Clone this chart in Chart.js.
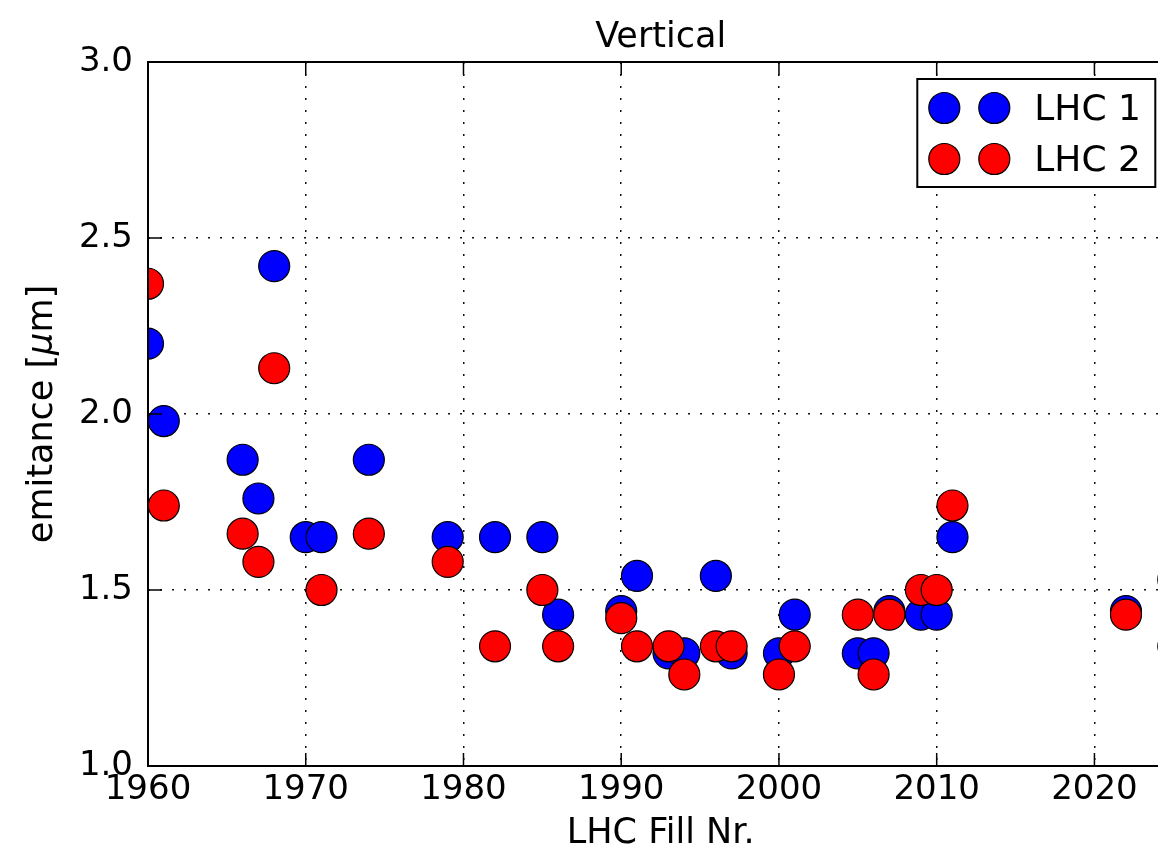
<!DOCTYPE html>
<html>
<head>
<meta charset="utf-8">
<script src="https://cdn.jsdelivr.net/npm/chart.js@4"></script>
<style>
  html, body { margin: 0; padding: 0; background: #fff; overflow: hidden; }
  #wrap { width: 1190px; height: 848px; }
</style>
</head>
<body>
<div id="wrap"><canvas id="emitChart" width="1190" height="848"></canvas></div>
<script>
/* Vertical emittance per fill, LHC 1 / LHC 2 */

const fills1 = [1960, 1961, 1966, 1967, 1968, 1970, 1971, 1974, 1979, 1982, 1985, 1986, 1990, 1991,
                1993, 1994, 1996, 1997, 2000, 2001, 2005, 2006, 2007, 2009, 2010, 2011, 2022, 2025];
const lhc1 = [2.20, 1.98, 1.87, 1.76, 2.42, 1.65, 1.65, 1.87, 1.65, 1.65, 1.65, 1.43, 1.44, 1.54,
              1.32, 1.32, 1.54, 1.32, 1.32, 1.43, 1.32, 1.32, 1.44, 1.43, 1.43, 1.65, 1.44, 1.53];

const fills2 = [1960, 1961, 1966, 1967, 1968, 1971, 1974, 1979, 1982, 1985, 1986, 1990, 1991,
                1993, 1994, 1996, 1997, 2000, 2001, 2005, 2006, 2007, 2009, 2010, 2011, 2022, 2025];
const lhc2 = [2.37, 1.74, 1.66, 1.58, 2.13, 1.50, 1.66, 1.58, 1.34, 1.50, 1.34, 1.42, 1.34,
              1.34, 1.26, 1.34, 1.34, 1.26, 1.34, 1.43, 1.26, 1.43, 1.50, 1.50, 1.74, 1.43, 1.34];

const xTicks = [1960, 1970, 1980, 1990, 2000, 2010, 2020];
const yTicks = [1.0, 1.5, 2.0, 2.5, 3.0];

const FONT = "'DejaVu Sans', sans-serif";

function toPoints(xs, ys) {
  return xs.map((x, i) => ({ x: x, y: ys[i] }));
}

// frame, inward ticks, title, axis labels and the legend box (matplotlib look)
const mplDecor = {
  id: 'mplDecor',
  afterDraw(chart) {
    const { ctx, chartArea: a, scales: { x, y } } = chart;
    ctx.save();

    // inward tick marks on all four sides
    ctx.strokeStyle = '#000';
    ctx.lineWidth = 1.5;
    ctx.beginPath();
    xTicks.forEach((v) => {
      const px = x.getPixelForValue(v);
      ctx.moveTo(px, a.bottom); ctx.lineTo(px, a.bottom - 13);
      ctx.moveTo(px, a.top); ctx.lineTo(px, a.top + 13);
    });
    yTicks.forEach((v) => {
      const py = y.getPixelForValue(v);
      ctx.moveTo(a.left, py); ctx.lineTo(a.left + 14, py);
      ctx.moveTo(a.right, py); ctx.lineTo(a.right - 14, py);
    });
    ctx.stroke();

    // axes frame
    ctx.lineWidth = 2;
    ctx.strokeRect(a.left, a.top, a.right - a.left, a.bottom - a.top);

    // title + x label
    const cx = (a.left + a.right) / 2;
    ctx.fillStyle = '#000';
    ctx.textAlign = 'center';
    ctx.textBaseline = 'alphabetic';
    ctx.font = '35px ' + FONT;
    ctx.fillText('Vertical', cx, 47);
    ctx.fillText('LHC Fill Nr.', cx, 843);

    // y label with italic mu
    const parts = [['emitance [', 'normal'], ['\u03bc', 'oblique'], ['m]', 'normal']];
    let total = 0;
    parts.forEach((p) => {
      ctx.font = (p[1] === 'oblique' ? 'oblique ' : '') + '35px ' + FONT;
      total += ctx.measureText(p[0]).width;
    });
    ctx.save();
    ctx.translate(52, (a.top + a.bottom) / 2);
    ctx.rotate(-Math.PI / 2);
    ctx.textAlign = 'left';
    let tx = -total / 2;
    parts.forEach((p) => {
      ctx.font = (p[1] === 'oblique' ? 'oblique ' : '') + '35px ' + FONT;
      ctx.fillText(p[0], tx, 0);
      tx += ctx.measureText(p[0]).width;
    });
    ctx.restore();

    // legend: two markers per entry, framed box at upper right
    const bw = 238, bh = 108;
    const bx = a.right - 18 - bw, by = a.top + 17;
    ctx.fillStyle = '#fff';
    ctx.fillRect(bx, by, bw, bh);
    ctx.lineWidth = 2;
    ctx.strokeStyle = '#000';
    ctx.strokeRect(bx, by, bw, bh);
    ctx.font = '36px ' + FONT;
    ctx.textAlign = 'left';
    chart.data.datasets.forEach((ds, i) => {
      const ry = by + 29 + i * 51;
      [27, 77].forEach((off) => {
        ctx.beginPath();
        ctx.arc(bx + off, ry, 15.5, 0, Math.PI * 2);
        ctx.fillStyle = ds.backgroundColor;
        ctx.fill();
        ctx.lineWidth = 1.2;
        ctx.strokeStyle = '#000';
        ctx.stroke();
      });
      ctx.fillStyle = '#000';
      ctx.fillText(ds.label, bx + 117, ry + 12);
    });

    ctx.restore();
  }
};

const ctx = document.getElementById('emitChart');

new Chart(ctx, {
  type: 'scatter',
  data: {
    datasets: [
      {
        label: 'LHC 1',
        data: toPoints(fills1, lhc1),
        backgroundColor: '#0000ff',
        borderColor: '#000',
        borderWidth: 1.2,
        pointRadius: 15.5,
        pointHoverRadius: 15.5,
        clip: 0,
        order: 1
      },
      {
        label: 'LHC 2',
        data: toPoints(fills2, lhc2),
        backgroundColor: '#ff0000',
        borderColor: '#000',
        borderWidth: 1.2,
        pointRadius: 15.5,
        pointHoverRadius: 15.5,
        clip: 0,
        order: 0
      }
    ]
  },
  options: {
    responsive: false,
    animation: false,
    devicePixelRatio: 1,
    layout: { padding: { left: 0, top: 62, right: 11, bottom: 0 } },
    plugins: {
      legend: { display: false },
      tooltip: { enabled: false }
    },
    scales: {
      x: {
        type: 'linear',
        min: 1960,
        max: 2025,
        afterFit(scale) { scale.height = 82; },
        afterBuildTicks(scale) { scale.ticks = xTicks.map((v) => ({ value: v })); },
        ticks: {
          includeBounds: false,
          padding: 4,
          color: '#000',
          maxRotation: 0,
          font: { family: FONT, size: 34 },
          callback: (v) => String(v)
        },
        grid: { color: '#111', lineWidth: 1.5, drawTicks: false },
        border: { display: false, dash: [2, 10] }
      },
      y: {
        min: 1,
        max: 3,
        afterFit(scale) { scale.width = 148; },
        afterBuildTicks(scale) { scale.ticks = yTicks.map((v) => ({ value: v })); },
        ticks: {
          padding: 15,
          color: '#000',
          font: { family: FONT, size: 34 },
          callback: (v) => v.toFixed(1)
        },
        grid: { color: '#111', lineWidth: 1.5, drawTicks: false },
        border: { display: false, dash: [2, 10] }
      }
    }
  },
  plugins: [mplDecor]
});
</script>
</body>
</html>
